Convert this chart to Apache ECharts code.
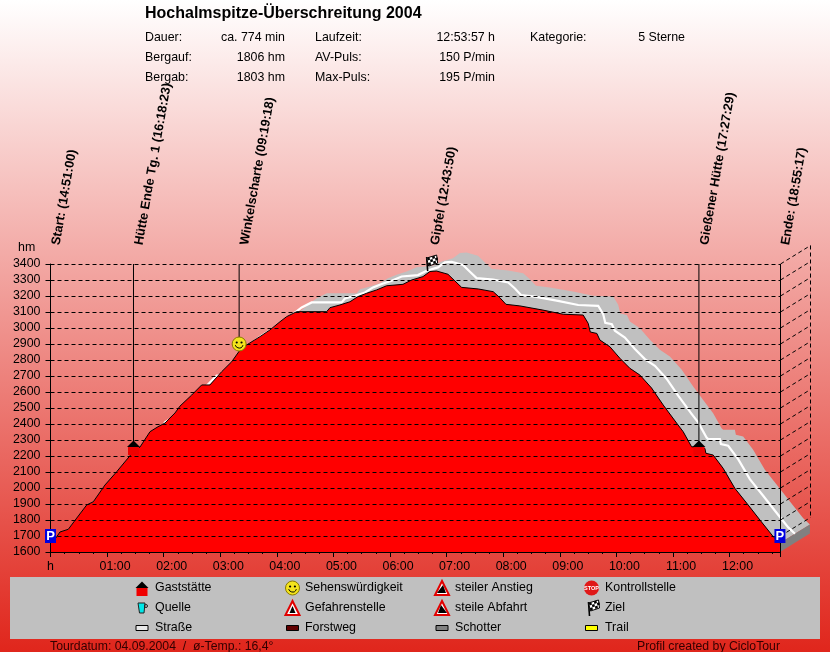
<!DOCTYPE html>
<html><head><meta charset="utf-8">
<style>html,body{margin:0;padding:0;background:#fff}#c{width:830px;height:652px}</style>
<script src="https://cdn.jsdelivr.net/npm/echarts@6/dist/echarts.min.js"></script>
</head><body><div id="c"></div>
<script>
// ---- data ----
const profileMinutes = [0,5.8,10,18.9,27.8,38.4,45.4,57.8,70.2,82.2,87.5,94.9,105.5,114,121.4,132,137.3,149.7,160.3,169.1,181.5,192.1,200.9,208,222.1,232.7,243.3,250.4,261,292.8,296.3,306.9,317.5,326,335.2,345.8,356.4,373.7,382.9,394.9,402.3,409.4,421.4,428.8,435.9,453.5,469.4,476.5,482.9,497.7,522.1,543.6,564.8,570.1,572.3,579.3,582.5,593.1,603.7,614.3,624.9,637.3,649.6,663.8,670.8,679.7,681.4,693.8,694.9,702.6,713.2,725.6,739.7,752.2,766.3,773.4];
const profileHm = [1656,1688,1725,1742,1812,1894,1914,2019,2102,2187,2225,2256,2352,2383,2406,2469,2512,2581,2644,2644,2727,2789,2862,2894,2946,2988,3039,3071,3102,3102,3127,3144,3164,3196,3217,3238,3264,3273,3300,3321,3353,3356,3336,3294,3254,3244,3227,3189,3148,3138,3112,3086,3081,3029,2975,2966,2925,2883,2811,2748,2706,2625,2519,2406,2352,2258,2248,2248,2217,2206,2123,1998,1894,1800,1696,1656];
const waypointNames = ["Start: (14:51:00)","Hütte Ende Tg. 1 (16:18:23)","Winkelscharte (09:19:18)","Gipfel (12:43:50)","Gießener Hütte (17:27:29)","Ende: (18:55:17)"];
const waypointMinutes = [0,88,200,402,687.5,773.4];
const waypointHm = [1700,2256,2900,3406,2256,1700];
const waypointIcons = ["park","house","smile","flag","house","park"];
const depthTicks = [1700,1800,1900,2000,2100,2200,2300,2400,2500,2600,2700,2800,2900,3000,3100,3200,3300,3400];
const chartTitle = "Hochalmspitze-Überschreitung 2004";
const statLabels = ["Dauer:","Bergauf:","Bergab:"];
const statValues = ["ca. 774 min","1806 hm","1803 hm"];
const stat2Labels = ["Laufzeit:","AV-Puls:","Max-Puls:"];
const stat2Values = ["12:53:57 h","150 P/min","195 P/min"];
const categoryLabel = "Kategorie:";
const categoryValue = "5 Sterne";
const legendLabels = ["Gaststätte","Quelle","Straße","Sehenswürdigkeit","Gefahrenstelle","Forstweg","steiler Anstieg","steile Abfahrt","Schotter","Kontrollstelle","Ziel","Trail"];
const legendIcons = ["house","cup","road","smile","danger","forest","up","down","gravel","stop","flag","trail"];
const footerLeft = "Tourdatum: 04.09.2004  /  ø-Temp.: 16,4°";
const footerRight = "Profil created by CicloTour";

// ---- styles ----
const FONT = '"Liberation Sans", Arial, sans-serif';
const BASE = 12.4;
const DX = 30, DY = 18.5;
const T_MAX = 774, E_MIN = 1600, E_MAX = 3400;
const dash = [4,3];

function txt(text,x,y,o){o=o||{};return {type:'text',z:o.z||20,silent:true,style:{text:text,x:x,y:y,fill:o.fill||'#000',
  font:(o.bold?'bold ':'')+(o.size||BASE)+'px '+FONT,textAlign:o.align||'left',textVerticalAlign:'middle'}};}
function poly(points,fill,stroke,w){return {type:'polygon',shape:{points:points},style:{fill:fill,stroke:stroke||null,lineWidth:w||1}};}
function rect(x,y,w,h,fill,stroke){return {type:'rect',shape:{x:x,y:y,width:w,height:h},style:{fill:fill,stroke:stroke||null,lineWidth:1}};}
function seg(x1,y1,x2,y2,c,w,d){return {type:'line',shape:{x1:x1,y1:y1,x2:x2,y2:y2},style:{stroke:c||'#000',lineWidth:w||1,lineDash:d||null}};}
function circ(x,y,r,fill,stroke,w){return {type:'circle',shape:{cx:x,cy:y,r:r},style:{fill:fill,stroke:stroke||null,lineWidth:w||1}};}

function icon(kind,x,y){
  switch(kind){
    case 'park': return [rect(x-5.5,y-7,11,14,'#0000e0'),txt('P',x,y+0.5,{bold:true,size:13,fill:'#fff',align:'center'})];
    case 'house': return [poly([[x-6.5,y],[x,y-6.5],[x+6.5,y]],'#000'),rect(x-5.5,y,11,8,'#f00000')];
    case 'cup': return [poly([[x-4,y-5],[x+3,y-5],[x+2,y+5],[x-2.5,y+5]],'#00e8e8','#222'),circ(x+4,y-2,1.5,null,'#222')];
    case 'road': return [rect(x-6,y-2.5,12,5,'#e8e8e8','#000')];
    case 'forest': return [rect(x-6,y-2.5,12,5,'#600000','#000')];
    case 'gravel': return [rect(x-6,y-2.5,12,5,'#808080','#000')];
    case 'trail': return [rect(x-6,y-2.5,12,5,'#ffff00','#000')];
    case 'smile': return [circ(x,y,7,'#f4e41c','#8a7a00',1),circ(x-2.4,y-1.5,1.1,'#000'),circ(x+2.4,y-1.5,1.1,'#000'),
      {type:'arc',shape:{cx:x,cy:y,r:4,startAngle:0.3,endAngle:Math.PI-0.3},style:{stroke:'#000',lineWidth:1,fill:null}}];
    case 'danger': return [poly([[x,y-7],[x+7,y+7],[x-7,y+7]],'#fff','#e00000',2),poly([[x,y-2],[x+3,y+5],[x-3,y+5]],'#000')];
    case 'up': return [poly([[x,y-7],[x+7,y+7],[x-7,y+7]],'#fff','#e00000',2),poly([[x+1,y-3],[x+4,y+5],[x-5,y+5]],'#000')];
    case 'down': return [poly([[x,y-7],[x+7,y+7],[x-7,y+7]],'#fff','#e00000',2),poly([[x-1,y-3],[x+5,y+5],[x-4,y+5]],'#000')];
    case 'stop': return [circ(x,y,7.5,'#e01818'),txt('STOP',x,y,{bold:true,size:5.5,fill:'#fff',align:'center'})];
    case 'flag': {
      const parts=[seg(x-3,y-6,x-2,y+8,'#000',1.6),poly([[x-3,y-5],[x+7,y-8],[x+8,y],[x-1,y+3]],'#fff','#000')];
      for(let r=0;r<3;r++)for(let c=0;c<4;c++){ if((r+c)%2) continue;
        const px=x-2.6+c*2.5+r*0.5, py=y-5-c*0.8+r*2.5;
        parts.push(poly([[px,py],[px+2.5,py-0.8],[px+3,py+1.7],[px+0.5,py+2.5]],'#000'));}
      return parts;
    }
  }
  return [];
}

const profile = profileMinutes.map((t,i)=>[t,profileHm[i]]);
const waypoints = waypointMinutes.map((t,i)=>[t,waypointHm[i]]);

// ---- graphic (header, legend, footer) ----
const graphic = [];
graphic.push(txt(chartTitle,145,14,{bold:true,size:16}));
[38,58,78].forEach((y,i)=>{
  graphic.push(txt(statLabels[i],145,y),txt(statValues[i],285,y,{align:'right'}),
               txt(stat2Labels[i],315,y),txt(stat2Values[i],495,y,{align:'right'}));
});
graphic.push(txt(categoryLabel,530,38),txt(categoryValue,685,38,{align:'right'}));
graphic.push(txt('hm',18,248));
graphic.push(Object.assign(rect(10,577,810,62,'#c0c0c0'),{z:15,silent:true}));
const legendX = [142,292.5,442,591.5], legendTextX = [155,305,455,605], legendY = [588,608,628];
legendLabels.forEach((s,i)=>{
  const c=Math.floor(i/3), r=i%3;
  icon(legendIcons[i],legendX[c],legendY[r]).forEach(el=>{el.z=el.z||16;el.silent=true;graphic.push(el);});
  graphic.push(txt(s,legendTextX[c],legendY[r]));
});
graphic.push(txt(footerLeft,50,646.5,{fill:'#300',size:12.25}),txt(footerRight,637,646.5,{fill:'#300',size:12.25}));

// ---- chart ----
const chart = echarts.init(document.getElementById('c'),null,{renderer:'canvas'});
chart.setOption({
  animation:false,
  backgroundColor:{type:'linear',x:0,y:0,x2:0,y2:1,colorStops:[{offset:0,color:'#ffffff'},{offset:1,color:'#e0261c'}]},
  graphic:{elements:graphic},
  grid:{left:50.5,top:264,width:730,height:288,containLabel:false},
  xAxis:{type:'value',min:0,max:T_MAX,interval:60,z:4,
    axisLine:{show:true,onZero:false,lineStyle:{color:'#000'}},
    axisTick:{show:true,length:5,lineStyle:{color:'#000'}},
    minorTick:{show:true,splitNumber:4,length:2,lineStyle:{color:'#000'}},
    splitLine:{show:false},
    axisLabel:{margin:9,showMaxLabel:false,hideOverlap:false,color:'#000',
      formatter:v=>v===0?'{h|h}':(v%60===0?'{t|'+String(v/60).padStart(2,'0')+':00}':''),
      rich:{h:{fontFamily:FONT,fontSize:BASE,color:'#000'},t:{fontFamily:FONT,fontSize:BASE,color:'#000',padding:[0,0,0,16]}}}},
  yAxis:{type:'value',min:E_MIN,max:E_MAX,interval:100,z:4,
    axisLine:{show:true,onZero:false,lineStyle:{color:'#000'}},
    axisTick:{show:true,length:5,lineStyle:{color:'#000'}},
    splitLine:{show:true,lineStyle:{color:'#000',type:dash,width:1}},
    axisLabel:{margin:10,color:'#000',fontFamily:FONT,fontSize:BASE,formatter:v=>String(v)}},
  series:[
    { // depth surface behind the profile
      type:'custom',z:1,silent:true,coordinateSystem:'cartesian2d',data:profile,encode:{x:0,y:1},
      renderItem:function(params,api){
        if(params.dataIndex!==0) return null;
        const pts=profile.map(p=>api.coord(p));
        const back=pts.map(p=>[p[0]+DX,p[1]-DY]).reverse();
        const mid=pts.map(p=>[p[0]+DX/2,p[1]-DY/2]);
        const last=pts[pts.length-1];
        const base=api.coord([profileMinutes[profileMinutes.length-1],E_MIN]);
        return {type:'group',children:[
          poly(pts.concat(back),'#c0c0c0'),
          poly([[base[0],base[1]],[base[0]+DX,base[1]-DY],[last[0]+DX,last[1]-DY],[last[0],last[1]]],'#808080'),
          {type:'polyline',shape:{points:mid},style:{stroke:'#fff',lineWidth:2.2,fill:null}}
        ]};
      }
    },
    { // the profile itself
      type:'line',z:2,silent:true,data:profile,showSymbol:false,smooth:false,
      lineStyle:{color:'#000',width:1},areaStyle:{color:'#ff0000',opacity:1}
    },
    { // right end wall and depth grid
      type:'custom',z:5,silent:true,coordinateSystem:'cartesian2d',
      data:depthTicks.map(v=>[T_MAX,v]),encode:{x:0,y:1},
      renderItem:function(params,api){
        const p=api.coord([api.value(0),api.value(1)]);
        const kids=[seg(p[0],p[1],p[0]+DX,p[1]-DY,'#000',1,dash)];
        if(params.dataIndex===depthTicks.length-1){
          const b=api.coord([T_MAX,depthTicks[0]]);
          const f=api.coord([T_MAX,E_MIN]);
          kids.push(seg(p[0]+DX,p[1]-DY,b[0]+DX,b[1]-DY,'#000',1,dash));
          kids.push(seg(p[0],p[1],f[0],f[1],'#000',1));
        }
        return {type:'group',children:kids};
      }
    },
    { // waypoints: stem, icon, rotated label
      type:'custom',z:6,silent:true,coordinateSystem:'cartesian2d',data:waypoints,encode:{x:0,y:1},
      renderItem:function(params,api){
        const i=params.dataIndex;
        const p=api.coord([api.value(0),api.value(1)]);
        const top=api.coord([api.value(0),E_MAX]);
        const kids=[];
        if(waypointIcons[i]!=='park'&&waypointIcons[i]!=='flag') kids.push(seg(p[0],top[1],p[0],p[1],'#000',1));
        icon(waypointIcons[i],p[0],p[1]).forEach(e=>kids.push(e));
        kids.push({type:'text',x:p[0]+5.5,y:top[1]-19,rotation:80*Math.PI/180,
          style:{text:waypointNames[i],x:0,y:0,fill:'#000',font:'bold 12.8px '+FONT,textAlign:'left',textVerticalAlign:'middle'}});
        return {type:'group',children:kids};
      }
    }
  ]
});
</script></body></html>
